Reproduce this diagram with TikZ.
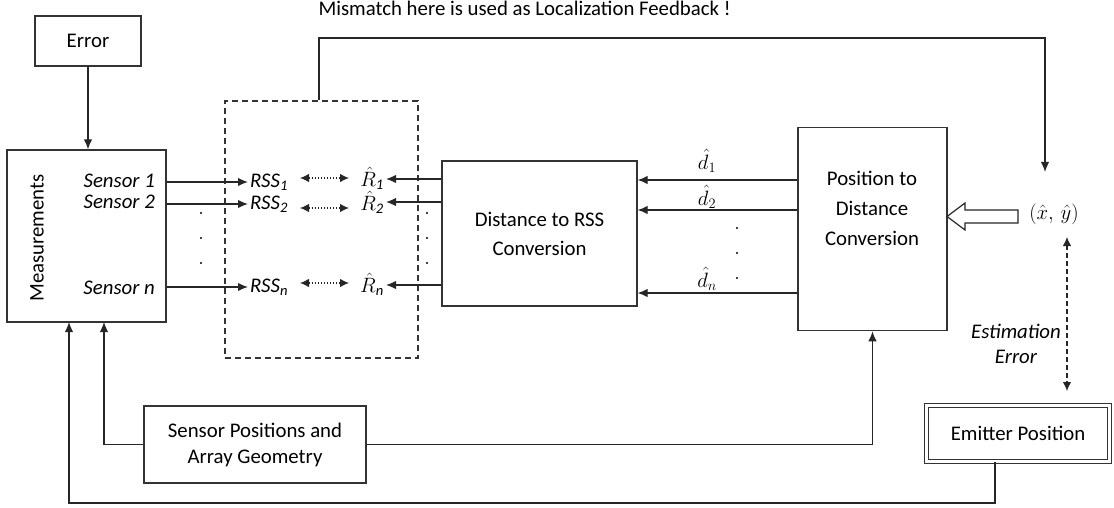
\documentclass[tikz,border=0pt]{standalone}
\usepackage{fontspec}
\setmainfont{Carlito}
\usetikzlibrary{arrows.meta,calc}

\tikzset{
  box/.style={draw=black!80, line width=1.3pt, align=center, inner sep=0pt},
  arr/.style={draw=black!85, -{Latex[length=10pt,width=8.5pt]}, line width=1.3pt},
  darr/.style={draw=black!85, {Latex[length=9pt,width=8.5pt]}-{Latex[length=9pt,width=8.5pt]}, line width=1.1pt},
  lbl/.style={inner sep=2pt},
  itlbl/.style={inner sep=2pt, font=\fontsize{20.8}{24}\selectfont\itshape},
  dotmark/.style={fill=black},
}
\newcommand{\fs}[1]{\fontsize{20.8}{#1}\selectfont}

\begin{document}
\begin{tikzpicture}[x=1pt, y=-1pt, font=\fs{30}]
\useasboundingbox (0,0) rectangle (1114,508);

% ---- blocks ----
\node[box, minimum width=106pt, minimum height=50pt] (err) at (88,41) {Error};
\node[box, minimum width=159pt, minimum height=172pt] (meas) at (86.5,236) {};
\node[rotate=90] (meastxt) at (37,238) {Measurements};
\node[box, dash pattern=on 6pt off 4pt, line width=1.1pt, minimum width=193pt, minimum height=257pt] (grp) at (321.5,229.5) {};
\node[box, font=\fs{29}, minimum width=195pt, minimum height=145pt] (d2r) at (539.5,233.5) {Distance to RSS\\Conversion};
\node[box, minimum width=149pt, minimum height=203pt, anchor=north] (pd) at (872.5,127) {};
\node[align=center, font=\fs{30}] (pdtxt) at (872,208) {Position to\\Distance\\Conversion};
\node[box, font=\fs{26}, minimum width=222pt, minimum height=77pt] (sp) at (255,444.5) {Sensor Positions and\\Array Geometry};
\node[box, double=white, double distance=2.5pt, line width=1pt, minimum width=183pt, minimum height=56pt] (emit) at (1018,433.5) {Emitter Position};

% ---- sensor labels ----
\node[itlbl, anchor=east] (s1) at (157,181) {Sensor 1};
\node[itlbl, anchor=east] (s2) at (157,202) {Sensor 2};
\node[itlbl, anchor=east] (sn) at (157,288) {Sensor n};

% ---- RSS and R-hat labels ----
\node[itlbl, anchor=west] (rss1) at (248,182) {RSS\textsubscript{1}};
\node[itlbl, anchor=west] (rss2) at (248,204) {RSS\textsubscript{2}};
\node[itlbl, anchor=west] (rssn) at (248,287) {RSS\textsubscript{n}};
\node[lbl, anchor=east] (r1) at (386,178) {$\hat{R}$\textsubscript{\itshape 1}};
\node[lbl, anchor=east] (r2) at (386,202) {$\hat{R}$\textsubscript{\itshape 2}};
\node[lbl, anchor=east] (rn) at (386,284) {$\hat{R}$\textsubscript{\itshape n}};

% ---- sensor outputs into the RSS column ----
\draw[arr] (meas.east |- rss1.west) -- (rss1.west);
\draw[arr] (meas.east |- rss2.west) -- (rss2.west);
\draw[arr] (meas.east |- rssn.west) -- (rssn.west);

% ---- RSS <-> estimated RSS comparisons ----
\coordinate (c1a) at (300,178); \coordinate (c1b) at (349,178);
\coordinate (c2a) at (300,208); \coordinate (c2b) at (349,208);
\coordinate (cna) at (300,283); \coordinate (cnb) at (349,283);
\draw[darr, dotted] (c1a) -- (c1b);
\draw[darr, dotted] (c2a) -- (c2b);
\draw[darr, dotted] (cna) -- (cnb);

% ---- converted RSS back to the comparison column ----
\coordinate (ry1) at (0,179); \coordinate (ry2) at (0,202); \coordinate (ryn) at (0,285);
\draw[arr] (d2r.west |- ry1) -- (r1.east |- ry1);
\draw[arr] (d2r.west |- ry2) -- (r2.east |- ry2);
\draw[arr] (d2r.west |- ryn) -- (rn.east |- ryn);

% ---- estimated distances ----
\coordinate (y1) at (0,180); \coordinate (y2) at (0,210); \coordinate (yn) at (0,293);
\draw[arr] (pd.west |- y1) -- (d2r.east |- y1);
\draw[arr] (pd.west |- y2) -- (d2r.east |- y2);
\draw[arr] (pd.west |- yn) -- (d2r.east |- yn);
\node (dh1) at (707,161) {$\hat{d}_1$};
\node (dh2) at (707,197) {$\hat{d}_2$};
\node (dhn) at (707,279) {$\hat{d}_n$};

% ---- vertical ellipses ----
\foreach \yy in {213,238,263} {
  \fill[dotmark] (201,\yy) circle (1.1pt);
  \fill[dotmark] (427,\yy) circle (1.1pt);
}
\foreach \yy in {228,253,278} \fill[dotmark] (737,\yy) circle (1.1pt);

% ---- position estimate ----
\node (xy) at (1054,214) {$(\hat{x},\,\hat{y})$};
\draw[black!85, line width=1.2pt, fill=white] (1018,210) -- (965,210) -- (965,203) -- (947,216.5)
  -- (965,230) -- (965,223) -- (1018,223) -- cycle;

% ---- localization feedback ----
\node[anchor=west] (fbtxt) at (315,8) {Mismatch here is used as Localization Feedback !};
\coordinate (fbA) at (319,38);
\coordinate (fbB) at (1045,38);
\coordinate (fbC) at (1045,172);
\draw[arr] (grp.north -| fbA) -- (fbA) -- (fbB) -- (fbC);

% ---- estimation error ----
\coordinate (eeA) at (1067,237);
\coordinate (eeB) at (1067,391);
\draw[darr, dash pattern=on 5pt off 3pt] (eeA) -- (eeB);
\node[align=center, font=\fs{25}\itshape] (eetxt) at (1016,344) {Estimation\\Error};

% ---- error into measurements ----
\draw[arr] (err.south) -- (err.south |- meas.north);

% ---- geometry and emitter feeds ----
\coordinate (mA) at (69,322);
\coordinate (mB) at (104,322);
\coordinate (lb) at (995,503);
\draw[arr] (sp.west) -| (mB);
\draw[arr] (sp.east) -| (pd.south);
\draw[arr] (emit.south -| lb) -- (lb) -| (mA);
\end{tikzpicture}
\end{document}
